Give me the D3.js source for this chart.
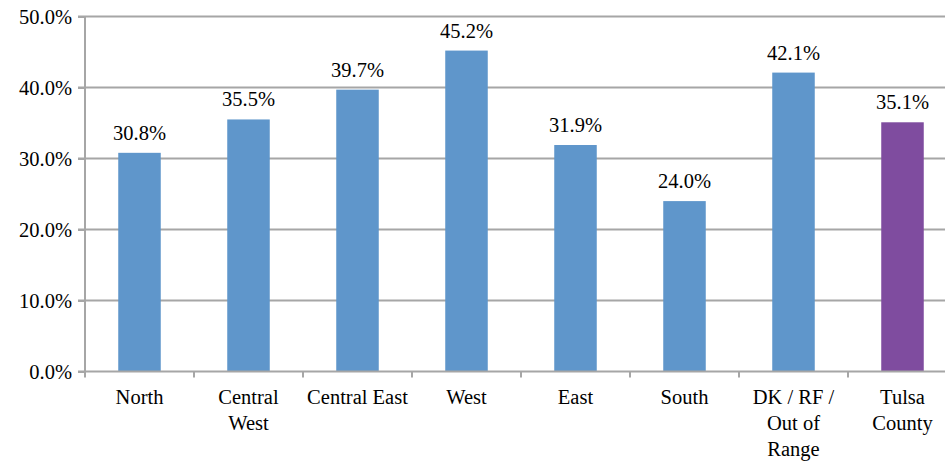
<!DOCTYPE html>
<html><head><meta charset="utf-8">
<script src="https://cdn.jsdelivr.net/npm/d3@7"></script>
<style>body{margin:0;background:#fff;} svg{display:block;} svg text{font-family:"Liberation Serif","Times New Roman","DejaVu Serif",serif !important;}</style>
</head><body>
<svg id="c" width="945" height="461"></svg>
<script>
const categories = ["North", "Central West", "Central East", "West", "East", "South", "DK / RF / Out of Range", "Tulsa County"];
const categoryLines = [["North"], ["Central", "West"], ["Central East"], ["West"], ["East"], ["South"], ["DK / RF /", "Out of", "Range"], ["Tulsa", "County"]];
const values = [30.8, 35.5, 39.7, 45.2, 31.9, 24.0, 42.1, 35.1];
const barColors = ["#5F96CB", "#5F96CB", "#5F96CB", "#5F96CB", "#5F96CB", "#5F96CB", "#5F96CB", "#7F4C9F"];
const yTicks = [0, 10, 20, 30, 40, 50];

(function () {
const svg = d3.select("#c");
const mLeft = 85, mTop = 16.5, mBottom = 371.5, mRight = 957;
const fs = 20.5;

const x = d3.scaleBand().domain(categories).range([mLeft, mRight]).paddingInner(0.61).paddingOuter(0.305);
const xTickScale = d3.scaleBand().domain(categories).range([mLeft, mRight]);
const y = d3.scaleLinear().domain([0, 50]).range([mBottom, mTop]);

// gridlines
svg.append("g").selectAll("line").data(yTicks.filter(d => d > 0)).join("line")
  .attr("x1", mLeft - 7).attr("x2", 945)
  .attr("y1", d => y(d)).attr("y2", d => y(d))
  .attr("stroke", "#A6A6A6").attr("stroke-width", 2);

// bars
svg.append("g").selectAll("rect").data(values).join("rect")
  .attr("x", (d, i) => x(categories[i]))
  .attr("width", x.bandwidth())
  .attr("y", d => y(d))
  .attr("height", d => y(0) - y(d))
  .attr("fill", (d, i) => barColors[i]);

// y axis
const yAxis = d3.axisLeft(y).tickValues(yTicks).tickFormat(d => d.toFixed(1) + "%").tickSize(7).tickPadding(6);
const gy = svg.append("g").attr("transform", `translate(${mLeft},0)`).call(yAxis);
gy.attr("font-family", null).attr("font-size", null);
gy.select(".domain").attr("stroke", "#A6A6A6").attr("stroke-width", 2).attr("d", `M0,${mTop}V${mBottom}`);
gy.selectAll(".tick line").attr("stroke", "#A6A6A6").attr("stroke-width", 2);
gy.selectAll(".tick text").style("font-size", fs + "px").attr("fill", "#000");

// x axis line
svg.append("line").attr("x1", mLeft - 7).attr("x2", 945).attr("y1", mBottom).attr("y2", mBottom)
  .attr("stroke", "#A6A6A6").attr("stroke-width", 2);
// x tick marks between categories
svg.append("g").selectAll("line").data(categories).join("line")
  .attr("x1", d => xTickScale(d)).attr("x2", d => xTickScale(d))
  .attr("y1", mBottom).attr("y2", mBottom + 6)
  .attr("stroke", "#A6A6A6").attr("stroke-width", 2);

// category labels
const lab = svg.append("g").selectAll("text").data(categories).join("text")
  .attr("x", d => x(d) + x.bandwidth() / 2)
  .attr("y", 404)
  .attr("text-anchor", "middle")
  .style("font-size", fs + "px").attr("fill", "#000");
lab.each(function(d, i) {
  d3.select(this).selectAll("tspan").data(categoryLines[i]).join("tspan")
    .attr("x", x(d) + x.bandwidth() / 2)
    .attr("dy", (t, j) => j === 0 ? 0 : 26)
    .text(t => t);
});

// value labels
svg.append("g").selectAll("text").data(values).join("text")
  .attr("x", (d, i) => x(categories[i]) + x.bandwidth() / 2)
  .attr("y", d => y(d) - 13)
  .attr("text-anchor", "middle")
  .style("font-size", fs + "px").attr("fill", "#000")
  .text(d => d.toFixed(1) + "%");
})();
</script>
</body></html>
